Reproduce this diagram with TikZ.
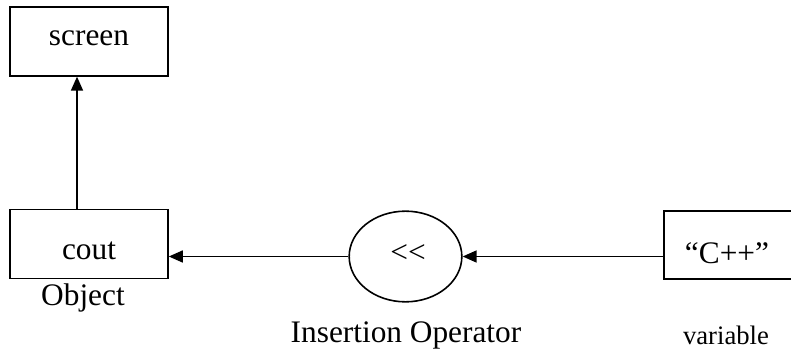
\documentclass[tikz,border=0pt]{standalone}
\usepackage{fontspec}
\setmainfont{Liberation Serif}
\usetikzlibrary{arrows.meta,shapes.geometric}

\tikzset{every picture/.style={line width=1.2pt}}
\tikzset{
  blockbox/.style={draw,rectangle,minimum width=118.5pt,minimum height=51.5pt,inner sep=0pt},
  opellipse/.style={draw,ellipse,minimum width=84.5pt,minimum height=68pt,inner sep=0pt},
  flowarrow/.style={-{Triangle[length=10.5pt,width=9pt]}},
  bigtext/.style={font=\fontsize{23.5}{27}\selectfont,inner sep=0pt}
}

\begin{document}
\begin{tikzpicture}[x=0.75pt,y=0.75pt,yscale=-1,xscale=1]
\useasboundingbox (0,0) rectangle (791,352);

%Shape: Rectangle [screen]
\node [blockbox] (screen) at (89,41.5) {};
%Shape: Rectangle [cout]
\node [blockbox] (cout) at (89,244) {};
%Shape: Ellipse [operator]
\node [opellipse] (op) at (405.5,256.5) {};
%Shape: Rectangle [variable], right side cut off by the page
\node [draw,rectangle,minimum width=105pt,minimum height=51pt,inner sep=0pt] (var) at (734,245) {};

% Text Node
\node [bigtext] (screentext) at (89,38) {screen};
% Text Node
\node [bigtext] (couttext) at (89,251) {cout};
% Text Node
\node [bigtext] (optext) at (408,254) {<{}<};
% Text Node
\node [bigtext] (vartext) at (727,253) {“C++”};
% Text Node
\node [bigtext] (objlabel) at (83,298) {Object};
% Text Node
\node [bigtext] (oplabel) at (406,335) {Insertion Operator};
% Text Node
\node [font=\fontsize{20}{24}\selectfont,inner sep=0pt] (varlabel) at (726,335) {variable};

% Arrows
\draw [flowarrow] (cout.north -| 77,0) -- (screen.south -| 77,0);
\draw [flowarrow] (op.west) -- (op.west -| cout.east);
\draw [flowarrow] (var.west |- op.east) -- (op.east);

\end{tikzpicture}
\end{document}
